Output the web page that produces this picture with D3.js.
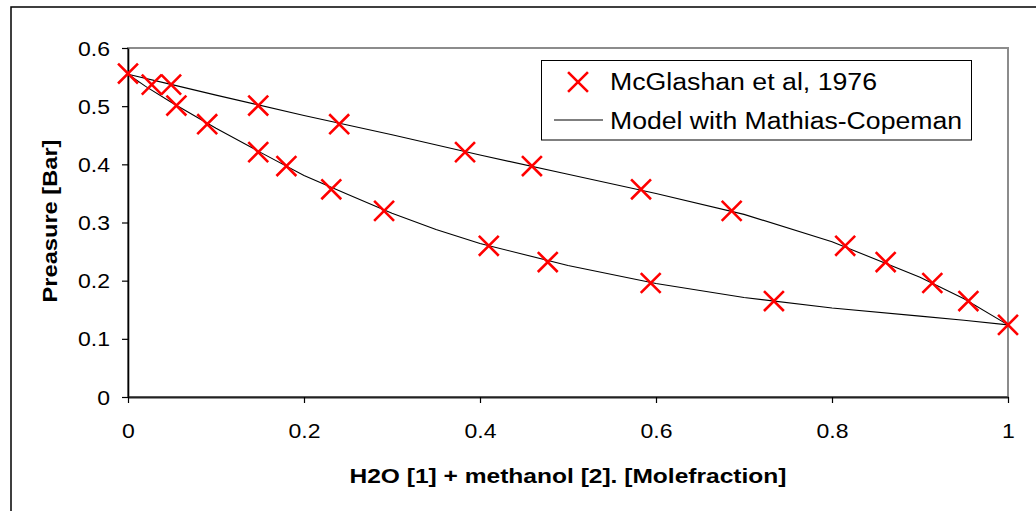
<!DOCTYPE html>
<html>
<head>
<meta charset="utf-8">
<script src="https://cdn.jsdelivr.net/npm/d3@7"></script>
<style>
	body { margin: 0; background: #fff; }
	text { font-family: "Liberation Sans", Arial, sans-serif; fill: #000; }
</style>
</head>
<body>
<svg id="chart" width="1036" height="511"></svg>
<script>
// experimental data (McGlashan et al, 1976): pure ends + paired bubble/dew points
const pureX = [0, 1]
const pureP = [0.556, 0.124]
const expP       = [0.537, 0.501, 0.469, 0.421, 0.397, 0.357, 0.320, 0.260, 0.232, 0.196, 0.165]
const expLiquidX = [0.049, 0.148, 0.240, 0.383, 0.459, 0.583, 0.686, 0.815, 0.861, 0.914, 0.955]
const expVaporX  = [0.027, 0.055, 0.090, 0.148, 0.180, 0.231, 0.291, 0.410, 0.477, 0.594, 0.734]

// model curves (Mathias-Copeman)
const bubbleX = [0, 0.05, 0.1, 0.2, 0.3, 0.4, 0.5, 0.6, 0.7, 0.8, 0.9, 0.95, 1]
const bubbleP = [0.555, 0.537, 0.519, 0.484, 0.451, 0.416, 0.383, 0.350, 0.314, 0.267, 0.206, 0.169, 0.124]
const dewX = [0, 0.02, 0.05, 0.1, 0.15, 0.2, 0.25, 0.3, 0.35, 0.4, 0.5, 0.6, 0.7, 0.8, 0.9, 0.95, 1]
const dewP = [0.555, 0.534, 0.506, 0.462, 0.421, 0.381, 0.348, 0.316, 0.288, 0.264, 0.226, 0.195, 0.171, 0.153, 0.139, 0.132, 0.124]

// axes
const xTicks = [0, 0.2, 0.4, 0.6, 0.8, 1]
const yTicks = [0, 0.1, 0.2, 0.3, 0.4, 0.5, 0.6]
const xLabel = "H2O [1] + methanol [2]. [Molefraction]"
const yLabel = "Preasure [Bar]"
const legendLabels = ["McGlashan et al, 1976", "Model with Mathias-Copeman"]

const svg = d3.select("#chart")
const plot = {left: 128, right: 1008, top: 48, bottom: 397}
const textStretch = 1.18 // source picture is horizontally stretched

const xScale = d3.scaleLinear().domain([0, 1]).range([plot.left, plot.right])
const yScale = d3.scaleLinear().domain([0, 0.6]).range([plot.bottom, plot.top])

// outer chart frame
svg.append("rect")
	.attr("x", 11).attr("y", 7)
	.attr("width", 1040).attr("height", 520)
	.attr("fill", "none").attr("stroke", "#000").attr("stroke-width", 1.5)

// plot area border (grey)
svg.append("rect")
	.attr("x", plot.left).attr("y", plot.top)
	.attr("width", plot.right - plot.left).attr("height", plot.bottom - plot.top)
	.attr("fill", "none").attr("stroke", "#8c8c8c").attr("stroke-width", 2)

// y axis
const yAxisGroup = svg.append("g")
	.attr("transform", "translate(" + plot.left + ",0)")
	.call(d3.axisLeft(yScale).tickValues(yTicks).tickSize(6).tickSizeOuter(0).tickFormat(d3.format("~g")))
yAxisGroup.selectAll("path").attr("fill", "none").attr("stroke", "#000").attr("stroke-width", 1.6)
yAxisGroup.selectAll("line").attr("stroke", "#000").attr("stroke-width", 1.2)
yAxisGroup.selectAll("text")
	.attr("x", 0).attr("dy", "0.36em")
	.attr("transform", "translate(-18,0) scale(" + textStretch + ",1)")
	.style("font-size", "19.5px")

// x axis
const xAxisGroup = svg.append("g")
	.attr("transform", "translate(0," + plot.bottom + ")")
	.call(d3.axisBottom(xScale).tickValues(xTicks).tickSize(6).tickSizeOuter(0).tickFormat(d3.format("~g")))
xAxisGroup.selectAll("path").attr("fill", "none").attr("stroke", "#222").attr("stroke-width", 2)
xAxisGroup.selectAll("line").attr("stroke", "#000").attr("stroke-width", 1.2)
xAxisGroup.selectAll("text")
	.attr("y", 0).attr("dy", 0)
	.attr("transform", "translate(0,41) scale(" + textStretch + ",1)")
	.style("font-size", "19.5px")

// axis titles
svg.append("text")
	.attr("x", (plot.left + plot.right) / 2).attr("y", 483)
	.attr("text-anchor", "middle")
	.style("font-size", "20px").style("font-weight", "bold")
	.attr("textLength", 437).attr("lengthAdjust", "spacingAndGlyphs")
	.text(xLabel)

svg.append("text")
	.attr("transform", "translate(57,221) rotate(-90)")
	.attr("text-anchor", "middle")
	.style("font-size", "21px").style("font-weight", "bold")
	.attr("textLength", 163).attr("lengthAdjust", "spacingAndGlyphs")
	.text(yLabel)

// model lines
const line = d3.line().x(d => xScale(d[0])).y(d => yScale(d[1]))
const bubbleData = bubbleX.map((x, i) => [x, bubbleP[i]])
const dewData = dewX.map((x, i) => [x, dewP[i]])
svg.selectAll(".model")
	.data([bubbleData, dewData])
	.join("path")
	.attr("class", "model")
	.attr("d", line)
	.attr("fill", "none").attr("stroke", "#000").attr("stroke-width", 1.1)

// experimental markers
const points = pureX.map((x, i) => [x, pureP[i]])
	.concat(expLiquidX.map((x, i) => [x, expP[i]]))
	.concat(expVaporX.map((x, i) => [x, expP[i]]))

const cross = d3.symbol().type(d3.symbolX).size(260)
svg.selectAll(".pt")
	.data(points)
	.join("path")
	.attr("class", "pt")
	.attr("transform", d => "translate(" + xScale(d[0]) + "," + yScale(d[1]) + ")")
	.attr("d", cross)
	.attr("fill", "none").attr("stroke", "#ff0000").attr("stroke-width", 2.6)

// legend
const legend = svg.append("g")
legend.append("rect")
	.attr("x", 541.5).attr("y", 60.5)
	.attr("width", 430).attr("height", 79.5)
	.attr("fill", "#fff").attr("stroke", "#000").attr("stroke-width", 1)
legend.append("path")
	.attr("transform", "translate(578,82)")
	.attr("d", cross)
	.attr("fill", "none").attr("stroke", "#ff0000").attr("stroke-width", 2.6)
legend.append("line")
	.attr("x1", 554).attr("x2", 603).attr("y1", 120).attr("y2", 120)
	.attr("stroke", "#000").attr("stroke-width", 1.1)
legend.selectAll(".lt")
	.data(legendLabels)
	.join("text")
	.attr("class", "lt")
	.attr("x", 610)
	.attr("y", (d, i) => 90 + i * 39)
	.style("font-size", "23px")
	.attr("textLength", (d, i) => [267, 352][i]).attr("lengthAdjust", "spacingAndGlyphs")
	.text(d => d)
</script>
</body>
</html>
